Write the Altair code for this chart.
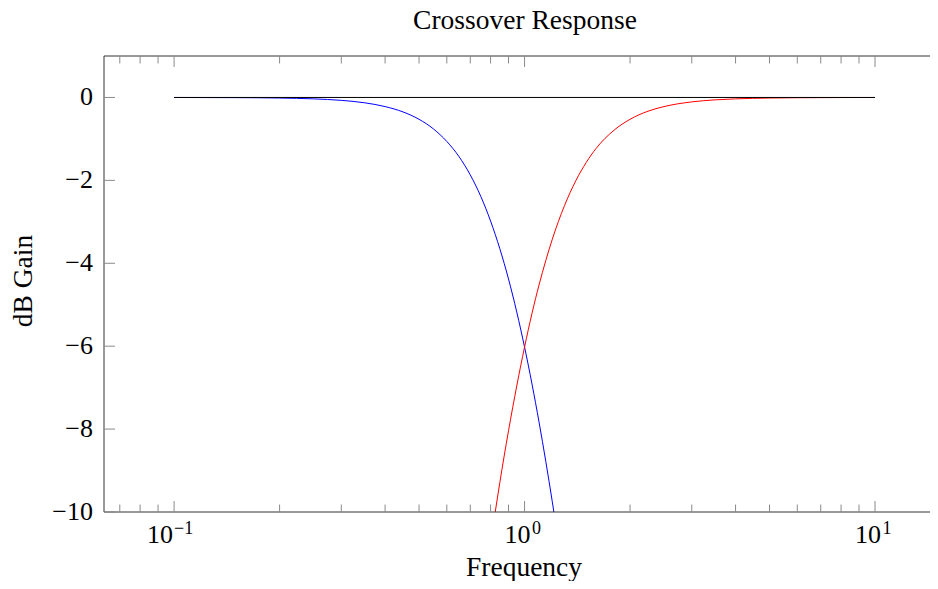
import altair as alt
import pandas as pd

# ---- data ----
lp_freq = [0.1, 0.15, 0.2, 0.25, 0.3, 0.35, 0.4, 0.45, 0.5, 0.55, 0.6, 0.65, 0.7,
           0.75, 0.8, 0.85, 0.9, 0.95, 1.0, 1.05, 1.1, 1.15, 1.2, 1.25]
lp_db = [-0.0009, -0.0044, -0.0139, -0.034, -0.070, -0.129, -0.220, -0.349, -0.527,
         -0.761, -1.061, -1.426, -1.868, -2.386, -2.982, -3.648, -4.380, -5.175,
         -6.021, -6.911, -7.834, -8.786, -9.754, -10.73]

hp_freq = [0.8, 0.82, 0.85, 0.9, 0.95, 1.0, 1.05, 1.1, 1.15, 1.2, 1.3, 1.4, 1.5,
           1.6, 1.8, 2.0, 2.25, 2.5, 3.0, 3.5, 4.0, 5.0, 6.0, 8.0, 10.0]
hp_db = [-10.73, -10.14, -9.29, -8.04, -6.96, -6.021, -5.21, -4.52, -3.93, -3.42,
         -2.61, -2.01, -1.566, -1.23, -0.790, -0.527, -0.332, -0.220, -0.107,
         -0.058, -0.034, -0.0139, -0.0067, -0.0021, -0.0009]

flat_freq = [0.1, 10.0]
flat_db = [0.0, 0.0]

x_major = [0.1, 1.0, 10.0]
x_sup = ["\u22121", "0", "1"]
x_minor = [0.07, 0.08, 0.09, 0.2, 0.3, 0.4, 0.5, 0.6, 0.7, 0.8, 0.9,
           2, 3, 4, 5, 6, 7, 8, 9]
y_ticks = [0, -2, -4, -6, -8, -10]
y_labels = ["0", "\u22122", "\u22124", "\u22126", "\u22128", "\u221210"]

title_text = "Crossover Response"
x_title = "Frequency"
y_title = "dB Gain"

x_domain = [0.0631, 14.35]
y_domain = [-10, 1]

W, H = 826, 456
FONT = "Liberation Serif"
FS = 26      # tick labels
TFS = 27.5   # titles

xs = alt.Scale(type="log", domain=x_domain, nice=False)
ys = alt.Scale(domain=y_domain, nice=False, zero=False)

one = pd.DataFrame({"a": [0]})


def curve(fr, db, color):
    df = pd.DataFrame({"f": fr, "db": db})
    return alt.Chart(df).mark_line(color=color, strokeWidth=1, clip=True,
                                   interpolate="monotone").encode(
        x=alt.X("f:Q", scale=xs, axis=None),
        y=alt.Y("db:Q", scale=ys, axis=None),
    )


blue = curve(lp_freq, lp_db, "#0000ff")
red = curve(hp_freq, hp_db, "#ff0000")
black = curve(flat_freq, flat_db, "#000000")

# frame lines (left, top, bottom; right border lies beyond the picture)
border_col = "#333333"
left_b = alt.Chart(one).mark_rule(color=border_col, strokeWidth=1).encode(
    x=alt.value(0), y=alt.value(0), y2=alt.value(H))
top_b = alt.Chart(one).mark_rule(color=border_col, strokeWidth=1).encode(
    y=alt.value(0), x=alt.value(0), x2=alt.value(W))
bot_b = alt.Chart(one).mark_rule(color=border_col, strokeWidth=1).encode(
    y=alt.value(H), x=alt.value(0), x2=alt.value(W))

tick_col = "#8a8a8a"
maj_df = pd.DataFrame({"v": x_major, "sup": x_sup})
min_df = pd.DataFrame({"v": x_minor})
yt_df = pd.DataFrame({"v": y_ticks, "lab": y_labels})


def xticks(df, length):
    bot = alt.Chart(df).mark_rule(color=tick_col, strokeWidth=1).encode(
        x=alt.X("v:Q", scale=xs, axis=None), y=alt.value(H), y2=alt.value(H - length))
    top = alt.Chart(df).mark_rule(color=tick_col, strokeWidth=1).encode(
        x=alt.X("v:Q", scale=xs, axis=None), y=alt.value(0), y2=alt.value(length))
    return [bot, top]


yl = alt.Chart(yt_df).mark_rule(color=tick_col, strokeWidth=1).encode(
    y=alt.Y("v:Q", scale=ys, axis=None), x=alt.value(0), x2=alt.value(11))

ylab = alt.Chart(yt_df).mark_text(font=FONT, fontSize=FS, align="right",
                                  baseline="middle", color="black").encode(
    y=alt.Y("v:Q", scale=ys, axis=None), x=alt.value(-11), text="lab:N")


# x tick labels: "10" with a superscript exponent
def xlabels(filt, dx_base, dx_sup):
    base = alt.Chart(maj_df).transform_filter(filt).mark_text(
        text="10", font=FONT, fontSize=FS, align="right", baseline="alphabetic",
        dx=dx_base, color="black").encode(
        x=alt.X("v:Q", scale=xs, axis=None), y=alt.value(H + 31))
    sup = alt.Chart(maj_df).transform_filter(filt).mark_text(
        font=FONT, fontSize=18, align="left", baseline="alphabetic",
        dx=dx_sup, color="black").encode(
        x=alt.X("v:Q", scale=xs, axis=None), y=alt.value(H + 22), text="sup:N")
    return [base, sup]


main_title = alt.Chart(one).mark_text(
    text=title_text, font=FONT, fontSize=TFS, align="center",
    baseline="alphabetic", color="black").encode(
    x=alt.value(421), y=alt.value(-27))
xt = alt.Chart(one).mark_text(
    text=x_title, font=FONT, fontSize=TFS, align="center",
    baseline="alphabetic", color="black").encode(
    x=alt.value(420), y=alt.value(H + 64))
yt = alt.Chart(one).mark_text(
    text=y_title, font=FONT, fontSize=TFS, align="center",
    baseline="alphabetic", angle=270, color="black").encode(
    x=alt.value(-72), y=alt.value(225))

layers = [blue, red, black, left_b, top_b, bot_b, yl, ylab]
layers += xticks(maj_df, 11)
layers += xticks(min_df, 7.5)
layers += xlabels("datum.v < 0.5", -1, 0)
layers += xlabels("datum.v > 0.5", 6, 7.5)
layers += [main_title, xt, yt]

chart = alt.layer(*layers).properties(
    width=W, height=H,
    autosize=alt.AutoSizeParams(type="none"),
    padding={"left": 96, "top": 48, "right": 0, "bottom": 69},
).configure_view(stroke=None)

chart.save("out.html", embed_options={"renderer": "svg", "actions": False})
